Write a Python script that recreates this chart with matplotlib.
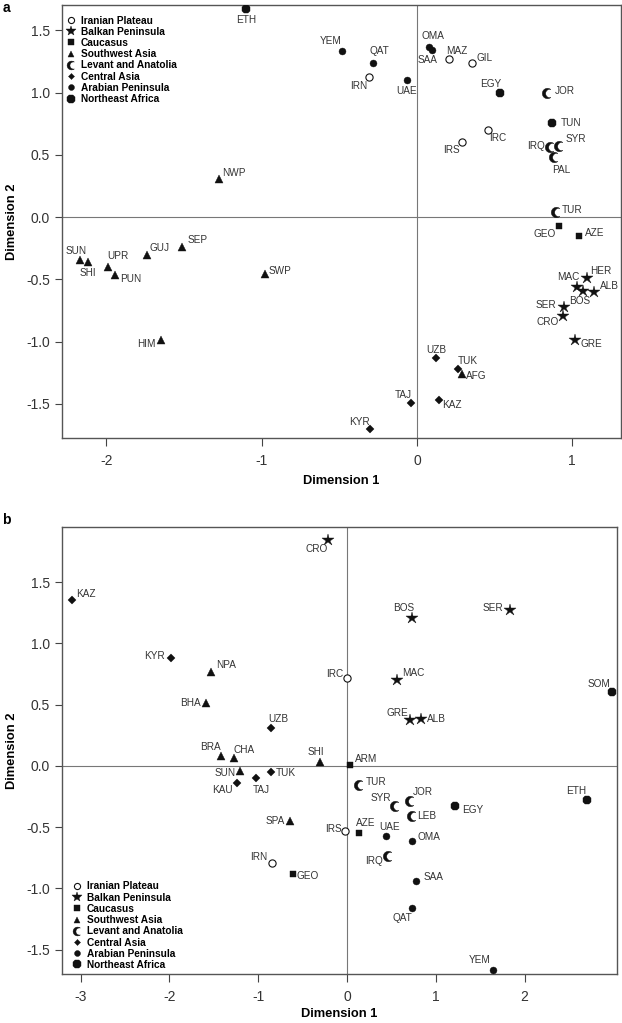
import numpy as np
import matplotlib
matplotlib.use("Agg")
import matplotlib.pyplot as plt
from matplotlib.path import Path
from matplotlib.lines import Line2D

plt.rcParams["font.family"] = ["Liberation Sans", "DejaVu Sans"]
plt.rcParams["axes.unicode_minus"] = False

# ---------------- data: panel a ----------------
a_codes = ["ETH", "NWP", "SEP", "GUJ", "SUN", "SHI", "UPR", "PUN", "SWP", "HIM",
           "YEM", "QAT", "IRN", "UAE", "OMA", "SAA", "MAZ", "GIL", "EGY", "JOR",
           "TUN", "IRC", "IRS", "IRQ", "SYR", "PAL", "TUR", "GEO", "AZE", "HER",
           "MAC", "BOS", "ALB", "SER", "CRO", "GRE", "UZB", "TUK", "AFG", "TAJ",
           "KAZ", "KYR"]
a_groups = ["NEA", "SWA", "SWA", "SWA", "SWA", "SWA", "SWA", "SWA", "SWA", "SWA",
            "ARA", "ARA", "IRP", "ARA", "ARA", "ARA", "IRP", "IRP", "NEA", "LEV",
            "NEA", "IRP", "IRP", "LEV", "LEV", "LEV", "LEV", "CAU", "CAU", "BAL",
            "BAL", "BAL", "BAL", "BAL", "BAL", "BAL", "CEN", "CEN", "SWA", "CEN",
            "CEN", "CEN"]
a_dim1 = [-1.10, -1.275, -1.51, -1.74, -2.17, -2.12, -1.99, -1.945, -0.98, -1.65,
          -0.48, -0.285, -0.31, -0.066, 0.077, 0.099, 0.206, 0.356, 0.536, 0.839,
          0.867, 0.455, 0.288, 0.856, 0.916, 0.882, 0.895, 0.914, 1.045, 1.093,
          1.032, 1.067, 1.140, 0.945, 0.942, 1.017, 0.122, 0.266, 0.292, -0.041,
          0.142, -0.303]
a_dim2 = [1.668, 0.305, -0.24, -0.305, -0.345, -0.364, -0.399, -0.466, -0.46, -0.988,
          1.333, 1.234, 1.127, 1.098, 1.365, 1.341, 1.266, 1.234, 0.998, 0.996,
          0.757, 0.699, 0.600, 0.565, 0.573, 0.479, 0.043, -0.072, -0.153, -0.487,
          -0.565, -0.594, -0.600, -0.720, -0.795, -0.988, -1.135, -1.223, -1.263, -1.496,
          -1.470, -1.703]

# ---------------- data: panel b ----------------
b_codes = ["KAZ", "KYR", "NPA", "BHA", "UZB", "BRA", "CHA", "SHI", "CRO", "BOS",
           "SER", "IRC", "MAC", "GRE", "ALB", "SOM", "ARM", "SUN", "TUK", "TAJ",
           "KAU", "SPA", "IRN", "GEO", "TUR", "SYR", "JOR", "LEB", "EGY", "ETH",
           "IRS", "AZE", "UAE", "OMA", "IRQ", "SAA", "QAT", "YEM"]
b_groups = ["CEN", "CEN", "SWA", "SWA", "CEN", "SWA", "SWA", "SWA", "BAL", "BAL",
            "BAL", "IRP", "BAL", "BAL", "BAL", "NEA", "CAU", "SWA", "CEN", "CEN",
            "CEN", "SWA", "IRP", "CAU", "LEV", "LEV", "LEV", "LEV", "NEA", "NEA",
            "IRP", "CAU", "ARA", "ARA", "LEV", "ARA", "ARA", "ARA"]
b_dim1 = [-3.10, -1.98, -1.53, -1.59, -0.86, -1.42, -1.27, -0.31, -0.21, 0.73,
          1.84, 0.00, 0.56, 0.71, 0.83, 2.98, 0.03, -1.20, -0.86, -1.02,
          -1.24, -0.64, -0.85, -0.61, 0.14, 0.54, 0.71, 0.73, 1.22, 2.70,
          -0.02, 0.14, 0.44, 0.73, 0.46, 0.78, 0.73, 1.64]
b_dim2 = [1.355, 0.88, 0.77, 0.51, 0.31, 0.08, 0.065, 0.03, 1.84, 1.21,
          1.27, 0.72, 0.70, 0.37, 0.38, 0.60, 0.01, -0.04, -0.05, -0.10,
          -0.14, -0.45, -0.79, -0.88, -0.16, -0.33, -0.29, -0.41, -0.33, -0.28,
          -0.53, -0.55, -0.57, -0.61, -0.74, -0.94, -1.16, -1.67]

group_keys = ["IRP", "BAL", "CAU", "SWA", "LEV", "CEN", "ARA", "NEA"]
group_names = ["Iranian Plateau", "Balkan Peninsula", "Caucasus", "Southwest Asia",
               "Levant and Anatolia", "Central Asia", "Arabian Peninsula",
               "Northeast Africa"]

a_xticks = [-2, -1, 0, 1]
b_xticks = [-3, -2, -1, 0, 1, 2]
y_ticks = [-1.5, -1.0, -0.5, 0.0, 0.5, 1.0, 1.5]

# ---------------- label placement (pixel offsets, ha) ----------------
a_lab = {
    "ETH": (0, 11, "c"), "NWP": (3, -6, "l"), "SEP": (5, -7, "l"), "GUJ": (3, -7, "l"),
    "SUN": (-4, -9, "c"), "SHI": (0, 11, "c"), "UPR": (-1, -11, "l"), "PUN": (5, 4, "l"),
    "SWP": (4, -3, "l"), "HIM": (-5, 4, "r"), "YEM": (-12, -10, "c"), "QAT": (7, -12, "c"),
    "IRN": (-10, 9, "c"), "UAE": (0, 11, "c"), "OMA": (4, -11, "c"), "SAA": (-5, 10, "c"),
    "MAZ": (8, -8, "c"), "GIL": (4, -5, "l"), "EGY": (-10, -9, "c"), "JOR": (8, -2, "l"),
    "TUN": (9, 0, "l"), "IRC": (10, 8, "c"), "IRS": (-10, 8, "c"), "IRQ": (-5, -1, "r"),
    "SYR": (6, -7, "l"), "PAL": (7, 13, "c"), "TUR": (6, -2, "l"), "GEO": (-14, 8, "c"),
    "AZE": (6, -3, "l"), "HER": (3, -7, "l"), "MAC": (-9, -10, "c"), "BOS": (-3, 10, "c"),
    "ALB": (6, -6, "l"), "SER": (-7, -2, "r"), "CRO": (-4, 6, "r"), "GRE": (6, 4, "l"),
    "UZB": (0, -8, "c"), "TUK": (10, -8, "c"), "AFG": (4, 2, "l"), "TAJ": (-7, -8, "c"),
    "KAZ": (3, 5, "l"), "KYR": (-10, -7, "c"),
}
b_lab = {
    "KAZ": (4, -6, "l"), "KYR": (-6, -2, "r"), "NPA": (5, -7, "l"), "BHA": (-5, 0, "r"),
    "UZB": (8, -9, "c"), "BRA": (-11, -9, "c"), "CHA": (-1, -8, "l"), "SHI": (-4, -10, "c"),
    "CRO": (-12, 9, "c"), "BOS": (-8, -10, "c"), "SER": (-7, -2, "r"), "IRC": (-4, -4, "r"),
    "MAC": (5, -7, "l"), "GRE": (-13, -7, "c"), "ALB": (6, 0, "l"), "SOM": (-13, -8, "c"),
    "ARM": (5, -6, "l"), "SUN": (-5, 2, "r"), "TUK": (5, 1, "l"), "TAJ": (5, 12, "c"),
    "KAU": (-14, 7, "c"), "SPA": (-5, 0, "r"), "IRN": (-13, -6, "c"), "GEO": (4, 2, "l"),
    "TUR": (6, -3, "l"), "SYR": (-4, -8, "r"), "JOR": (3, -9, "l"), "LEB": (5, 0, "l"),
    "EGY": (7, 4, "l"), "ETH": (-11, -9, "c"), "IRS": (-4, -2, "r"), "AZE": (6, -10, "c"),
    "UAE": (3, -9, "c"), "OMA": (6, -4, "l"), "IRQ": (-14, 5, "c"), "SAA": (7, -4, "l"),
    "QAT": (-9, 10, "c"), "YEM": (-13, -10, "c"),
}


def crescent_path():
    t1 = np.deg2rad(np.linspace(51.3, 308.7, 40))
    outer = np.column_stack([np.cos(t1), np.sin(t1)])
    t2 = np.deg2rad(np.linspace(282.6, 77.4, 40))
    inner = np.column_stack([0.45 + 0.8 * np.cos(t2), 0.8 * np.sin(t2)])
    verts = np.vstack([outer, inner, outer[:1]])
    codes = [Path.MOVETO] + [Path.LINETO] * (len(verts) - 2) + [Path.CLOSEPOLY]
    return Path(verts, codes)


CRES = crescent_path()
STYLE = {
    "IRP": dict(marker="o", ms=5.2, mfc="white", mec="#111", mew=0.8),
    "BAL": dict(marker="*", ms=8.8, mfc="#111", mec="#111", mew=0.3),
    "CAU": dict(marker="s", ms=4.8, mfc="#111", mec="#111", mew=0.3),
    "SWA": dict(marker="^", ms=5.5, mfc="#111", mec="#111", mew=0.3),
    "LEV": dict(marker=CRES, ms=7.5, mfc="#111", mec="#111", mew=0.3),
    "CEN": dict(marker="D", ms=3.6, mfc="#111", mec="#111", mew=0.3),
    "ARA": dict(marker="o", ms=5.0, mfc="#111", mec="#111", mew=0.3),
    "NEA": dict(marker="8", ms=7.0, mfc="#111", mec="#111", mew=0.3),
}
HA = {"l": "left", "r": "right", "c": "center"}

W, H = 622, 1023
fig = plt.figure(figsize=(W / 100, H / 100), dpi=100)


def make_axes(l, t, r, b):
    return fig.add_axes([l / W, 1 - b / H, (r - l) / W, (b - t) / H])


def draw_panel(ax, codes, groups, d1, d2, labs, xlim, ylim, xticks, xlabpad):
    ax.axhline(0, color="#777", lw=0.8, zorder=1)
    ax.axvline(0, color="#777", lw=0.8, zorder=1)
    codes = np.array(codes)
    groups = np.array(groups)
    d1 = np.array(d1)
    d2 = np.array(d2)
    for g in group_keys:
        m = groups == g
        if m.any():
            ax.plot(d1[m], d2[m], ls="none", zorder=3, **STYLE[g])
    for c, x, y in zip(codes, d1, d2):
        dx, dy, ha = labs[c]
        ax.annotate(c, (x, y), xytext=(dx * 0.72, -dy * 0.72), textcoords="offset points",
                    ha=HA[ha], va="center", fontsize=7.2, color="#333", zorder=4)
    ax.set_xlim(*xlim)
    ax.set_ylim(*ylim)
    ax.set_xticks(xticks)
    ax.set_xticklabels([f"{v:d}" for v in xticks])
    ax.set_yticks(y_ticks)
    ax.set_yticklabels([f"{v:.1f}" for v in y_ticks])
    ax.tick_params(axis="x", length=5.5, width=0.8, pad=6, labelsize=10, colors="#444",
                   labelcolor="#333")
    ax.tick_params(axis="y", length=5, width=0.8, pad=3.5, labelsize=10, colors="#444",
                   labelcolor="#333")
    for s in ax.spines.values():
        s.set_color("#555")
        s.set_linewidth(1.0)
    ax.set_xlabel("Dimension 1", fontsize=9.3, fontweight="bold", labelpad=xlabpad)
    ax.set_ylabel("Dimension 2", fontsize=9.3, fontweight="bold", labelpad=6)


def legend_handles():
    hs = []
    for g, n in zip(group_keys, group_names):
        st = dict(STYLE[g])
        st["ms"] = st["ms"] * 0.85
        hs.append(Line2D([], [], ls="none", label=n, **st))
    return hs


ax_a = make_axes(62, 5, 621, 438)
draw_panel(ax_a, a_codes, a_groups, a_dim1, a_dim2, a_lab,
           (-2.286, 1.314), (-1.775, 1.703), a_xticks, 5)
ax_a.legend(handles=legend_handles(), loc="upper left", bbox_to_anchor=(0.0, 0.985),
            frameon=False, handlelength=1.0, handletextpad=0.45, labelspacing=0.12,
            borderpad=0.2, borderaxespad=0.2, prop=dict(size=7.3, weight="bold"))

ax_b = make_axes(62, 527, 617, 974)
draw_panel(ax_b, b_codes, b_groups, b_dim1, b_dim2, b_lab,
           (-3.21, 3.04), (-1.70, 1.95), b_xticks, 3)
ax_b.legend(handles=legend_handles(), loc="lower left", bbox_to_anchor=(0.011, 0.0),
            frameon=False, handlelength=1.0, handletextpad=0.45, labelspacing=0.12,
            borderpad=0.2, borderaxespad=0.2, prop=dict(size=7.3, weight="bold"))

fig.text(3 / W, 1 - 1 / H, "a", fontsize=10, fontweight="bold", va="top", ha="left")
fig.text(2 / W, 1 - 520 / H, "b", fontsize=10, fontweight="bold", va="center", ha="left")

fig.savefig("out.png", dpi=100)
